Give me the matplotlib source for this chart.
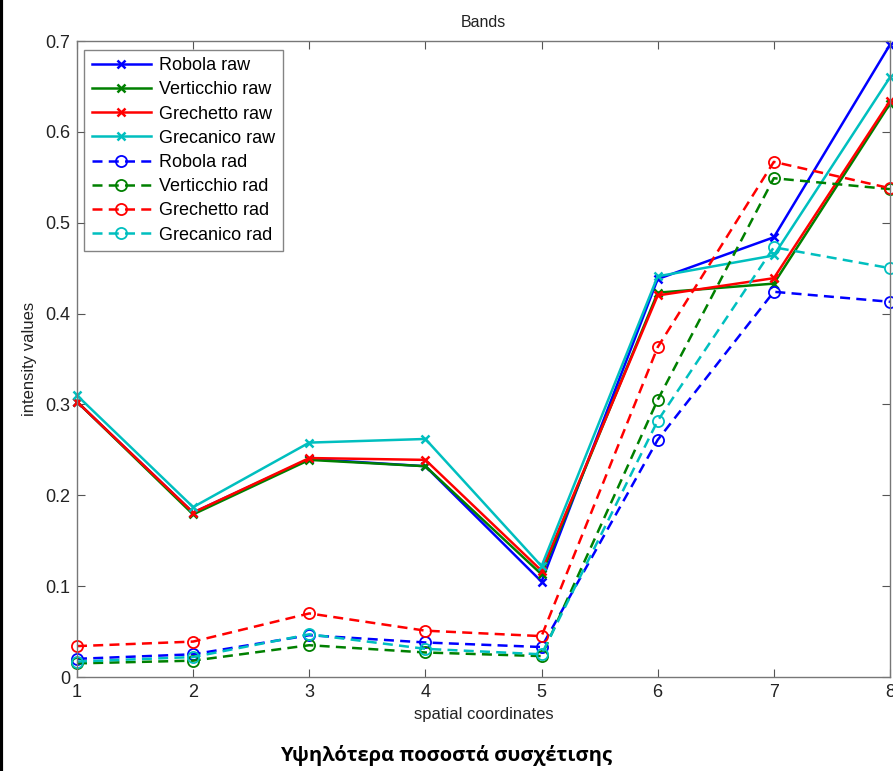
import numpy as np
import matplotlib
matplotlib.use("Agg")
import matplotlib.pyplot as plt
from matplotlib.lines import Line2D

plt.rcParams['font.family'] = ['Liberation Sans', 'DejaVu Sans']

# data
coords = [1, 2, 3, 4, 5, 6, 7, 8]

robola_raw = [0.303, 0.181, 0.240, 0.232, 0.105, 0.438, 0.484, 0.696]
verticchio_raw = [0.303, 0.179, 0.239, 0.232, 0.113, 0.423, 0.433, 0.631]
grechetto_raw = [0.303, 0.181, 0.241, 0.239, 0.117, 0.420, 0.439, 0.634]
grecanico_raw = [0.310, 0.187, 0.258, 0.262, 0.122, 0.441, 0.464, 0.660]

robola_rad = [0.020, 0.025, 0.046, 0.038, 0.033, 0.261, 0.424, 0.413]
verticchio_rad = [0.015, 0.018, 0.035, 0.027, 0.023, 0.305, 0.549, 0.537]
grechetto_rad = [0.034, 0.039, 0.070, 0.051, 0.045, 0.363, 0.567, 0.538]
grecanico_rad = [0.017, 0.022, 0.047, 0.031, 0.025, 0.282, 0.473, 0.450]

names = ['Robola', 'Verticchio', 'Grechetto', 'Grecanico']
colors = ['#0000ff', '#008000', '#ff0000', '#00bfbf']
raw_series = [robola_raw, verticchio_raw, grechetto_raw, grecanico_raw]
rad_series = [robola_rad, verticchio_rad, grechetto_rad, grecanico_rad]

fig = plt.figure(figsize=(8.93, 7.71), dpi=100)
ax = fig.add_axes([0.0862, 0.1219, 0.9104, 0.8249])

for name, col, vals in zip(names, colors, raw_series):
    ax.plot(coords, vals, '-', color=col, lw=1.8, marker='x', ms=6, mew=1.8,
            label=name + ' raw', clip_on=False)
for name, col, vals in zip(names, colors, rad_series):
    ax.plot(coords, vals, '--', color=col, lw=1.8, marker='o', ms=8,
            mfc='none', mew=1.3, dashes=(4, 2.5), label=name + ' rad',
            clip_on=False)

ax.set_xlim(1, 8)
ax.set_ylim(0, 0.7)
ax.set_xticks(coords)
ax.set_yticks(np.arange(0, 0.71, 0.1))
ax.set_yticklabels(['0', '0.1', '0.2', '0.3', '0.4', '0.5', '0.6', '0.7'])
ax.tick_params(direction='in', top=True, right=True, length=6, width=0.8,
               colors='#555555', labelcolor='#222222', labelsize=13, pad=5)
for sp in ax.spines.values():
    sp.set_color('#777777')
    sp.set_linewidth(1)

ax.set_title('Bands', fontsize=11.5, color='#222222', pad=10)
ax.set_xlabel('spatial coordinates', fontsize=12, color='#222222', labelpad=4)
ax.set_ylabel('intensity values', fontsize=12, color='#222222', labelpad=6)

leg = ax.legend(loc='upper left', bbox_to_anchor=(0.009, 0.986), fontsize=13,
                frameon=True, fancybox=False, handlelength=3.3,
                borderpad=0.4, labelspacing=0.4, handletextpad=0.45,
                borderaxespad=0.0)
leg.get_frame().set_edgecolor('#666666')
leg.get_frame().set_linewidth(1)

fig.text(0.5, 0.02, 'Υψηλότερα ποσοστά συσχέτισης', ha='center', va='center',
         fontsize=14.5, fontweight='bold', family=['Open Sans', 'DejaVu Sans'])

# black border on the left edge of the picture
fig.add_artist(Line2D([0.0015, 0.0015], [0, 1], color='black', lw=3,
                      transform=fig.transFigure))

fig.savefig('out.png', dpi=100)
